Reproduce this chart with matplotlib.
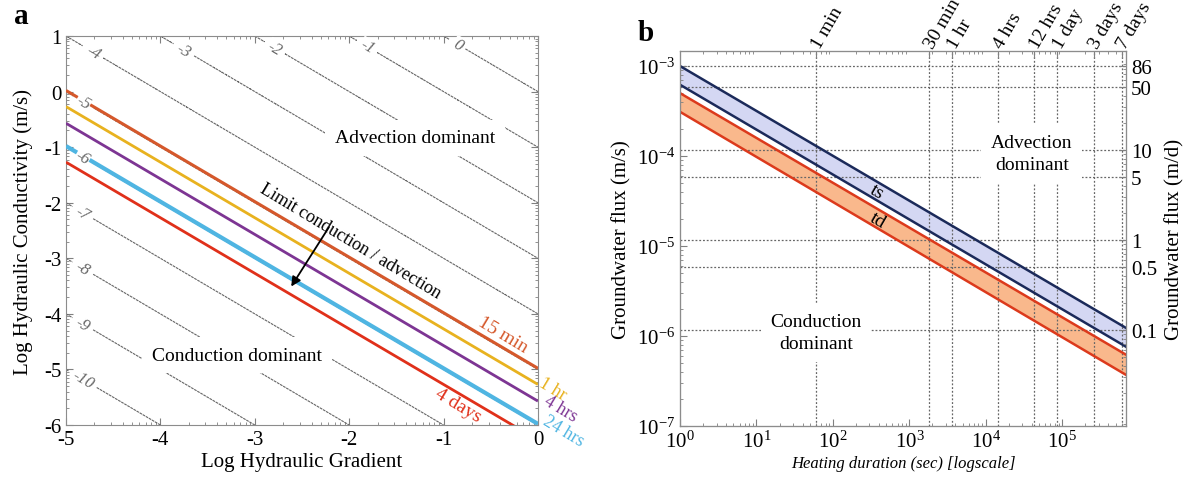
import numpy as np
import matplotlib
matplotlib.use('Agg')
import matplotlib.pyplot as plt
from matplotlib.ticker import FixedLocator, NullFormatter

plt.rcParams['font.family'] = ['Liberation Serif', 'DejaVu Serif']
plt.rcParams['mathtext.fontset'] = 'stix'
plt.rcParams['axes.unicode_minus'] = False
plt.rcParams['xtick.direction'] = 'in'
plt.rcParams['ytick.direction'] = 'in'

# ---- panel a data ----
grad_ends = [-5, 0]
limit_names = ['15 min', '1 hr', '4 hrs', '24 hrs', '4 days']
limit_logk = [[0.02, -4.98], [-0.27, -5.27], [-0.57, -5.57], [-0.98, -5.98], [-1.27, -6.27]]
limit_colors = ['#d5582b', '#e8b21f', '#7d3593', '#4fb5e2', '#e0301a']
limit_widths = [2.2, 2.0, 2.0, 3.0, 2.0]
flux_levels = list(range(-10, 1))
label_pos = [(-4.83, -5.2), (-4.83, -4.2), (-4.83, -3.2), (-4.83, -2.2), (-4.83, -1.2),
             (-4.82, -0.2), (-4.72, 0.7), (-3.76, 0.73), (-2.8, 0.76), (-1.82, 0.79),
             (-0.86, 0.83)]

# ---- panel b data ----
dur_ends = [1, 6.8e5]
ts_upper = [1.0e-3, 1.23e-6]
ts_lower = [6.2e-4, 7.6e-7]
td_upper = [5.0e-4, 6.2e-7]
td_lower = [3.1e-4, 3.7e-7]
time_marks = [60, 1800, 3600, 14400, 43200, 86400, 259200, 604800]
time_labels = ['1 min', '30 min', '1 hr', '4 hrs', '12 hrs', '1 day', '3 days', '7 days']
flux_md = [0.1, 0.5, 1, 5, 10, 50, 86]
flux_md_labels = ['0.1', '0.5', '1', '5', '10', '50', '86']

fig = plt.figure(figsize=(11.92, 4.81), dpi=100)
ax = fig.add_axes([0.0554, 0.1143, 0.3959, 0.8087])
axb = fig.add_axes([0.5705, 0.1123, 0.3741, 0.7796])

# ---------------- panel a ----------------
g = np.linspace(-5, 0, 201)
k = np.linspace(-6, 1, 281)
G, K = np.meshgrid(g, k)
cs = ax.contour(G, K, G + K, levels=flux_levels, colors='0.4', linewidths=0.8,
                linestyles=[(0, (2.5, 0.7))])
labels = ax.clabel(cs, flux_levels, inline=True, inline_spacing=5, fmt='%d',
                   fontsize=12, manual=label_pos)
for t in labels:
    t.set_fontstyle('italic')
    t.set_color('0.4')
    t.set_bbox(dict(facecolor='white', edgecolor='none', pad=0.3))
    t.set_zorder(6)

for name, lk, c, w in zip(limit_names, limit_logk, limit_colors, limit_widths):
    ax.plot(grad_ends, lk, color=c, lw=w, zorder=4, solid_capstyle='butt')

ax.text(-1.3, -0.83, 'Advection dominant', fontsize=14, ha='center', va='center',
        zorder=3, bbox=dict(facecolor='white', edgecolor='none', pad=7))
ax.text(-3.19, -4.74, 'Conduction dominant', fontsize=14, ha='center', va='center',
        zorder=3, bbox=dict(facecolor='white', edgecolor='none', pad=7))
ax.text(-1.99, -2.68, 'Limit conduction / advection', fontsize=13, ha='center',
        va='center', rotation=-31, zorder=3,
        bbox=dict(facecolor='white', edgecolor='none', pad=1))
ax.annotate('', xy=(-2.63, -3.55), xytext=(-2.2, -2.4),
            arrowprops=dict(arrowstyle='-|>', color='black', lw=1.3,
                            mutation_scale=14), zorder=5)

ax.text(-0.37, -4.36, '15 min', color=limit_colors[0], fontsize=14, rotation=-31,
        ha='center', va='center', zorder=5)
ax.text(-0.85, -5.64, '4 days', color=limit_colors[4], fontsize=14, rotation=-31,
        ha='center', va='center', zorder=5)
ax.text(0.16, -5.35, '1 hr', color=limit_colors[1], fontsize=13, rotation=-31,
        ha='center', va='center', clip_on=False)
ax.text(0.24, -5.7, '4 hrs', color=limit_colors[2], fontsize=13, rotation=-31,
        ha='center', va='center', clip_on=False)
ax.text(0.27, -6.1, '24 hrs', color=limit_colors[3], fontsize=13, rotation=-31,
        ha='center', va='center', clip_on=False)

ax.set_xlim(-5, 0)
ax.set_ylim(-6, 1)
ax.set_xticks(range(-5, 1))
ax.set_yticks(range(-6, 2))
ax.xaxis.set_minor_locator(FixedLocator([i + np.log10(m) for i in range(-5, 0) for m in range(2, 10)]))
ax.yaxis.set_minor_locator(FixedLocator([i + np.log10(m) for i in range(-6, 1) for m in range(2, 10)]))
ax.tick_params(which='both', top=True, right=True, color='0.5', labelsize=15)
ax.tick_params(which='major', length=5)
ax.tick_params(which='minor', length=2.5)
for s in ax.spines.values():
    s.set_color('0.55')
ax.set_xlabel('Log Hydraulic Gradient', fontsize=15, labelpad=2)
ax.set_ylabel('Log Hydraulic Conductivity (m/s)', fontsize=15, labelpad=8)
fig.text(0.012, 0.95, 'a', fontsize=21, fontweight='bold')

# ---------------- panel b ----------------
axb.set_xscale('log')
axb.set_yscale('log')
axb.set_xlim(1, 6.8e5)
axb.set_ylim(1e-7, 1.47e-3)

axb.fill_between(dur_ends, ts_lower, ts_upper, color='#d4d7f3', lw=0, zorder=1)
axb.fill_between(dur_ends, td_lower, td_upper, color='#f9b88c', lw=0, zorder=1)

for tm in time_marks:
    axb.axvline(tm, color='0.4', lw=0.9, ls=(0, (1.5, 1.5)), zorder=1.5)
for v in flux_md:
    axb.axhline(v / 86400, color='0.4', lw=0.9, ls=(0, (1.5, 1.5)), zorder=1.5)

axb.plot(dur_ends, ts_upper, color='#1b2a5a', lw=1.8, zorder=4)
axb.plot(dur_ends, ts_lower, color='#1b2a5a', lw=1.8, zorder=4)
axb.plot(dur_ends, td_upper, color='#dc3a1c', lw=1.8, zorder=4)
axb.plot(dur_ends, td_lower, color='#dc3a1c', lw=1.8, zorder=4)

axb.text(376, 4.0e-5, 'ts', fontsize=14, rotation=-30, ha='center', va='center', zorder=5)
axb.text(390, 1.95e-5, 'td', fontsize=14, rotation=-30, ha='center', va='center', zorder=5)

axb.text(4.0e4, 1.07e-4, 'Advection\ndominant', fontsize=14, ha='center', va='center',
         linespacing=1.4, zorder=3, bbox=dict(facecolor='white', edgecolor='none', pad=7))
axb.text(60, 1.1e-6, 'Conduction\ndominant', fontsize=14, ha='center', va='center',
         linespacing=1.4, zorder=3, bbox=dict(facecolor='white', edgecolor='none', pad=7))

axb.tick_params(which='both', top=False, right=False, color='0.5', labelsize=15)
axb.tick_params(which='major', length=5)
axb.tick_params(which='minor', length=2.5)
for s in axb.spines.values():
    s.set_color('0.55')
axb.set_ylabel('Groundwater flux (m/s)', fontsize=15, labelpad=4)
axb.set_xlabel('Heating duration (sec) [logscale]', fontsize=12, style='italic', labelpad=2)

axr = axb.twinx()
axr.set_yscale('log')
axr.set_ylim(1e-7 * 86400, 1.47e-3 * 86400)
axr.set_yticks(flux_md)
axr.set_yticklabels(flux_md_labels)
axr.yaxis.set_minor_formatter(NullFormatter())
axr.tick_params(which='both', color='0.5', labelsize=15)
axr.tick_params(which='major', length=5)
axr.tick_params(which='minor', length=2.5)
axr.set_ylabel('Groundwater flux (m/d)', fontsize=15, labelpad=6)

axt = axb.twiny()
axt.set_xscale('log')
axt.set_xlim(1, 6.8e5)
axt.set_xticks(time_marks)
axt.set_xticklabels(time_labels, rotation=60, ha='left', va='center', rotation_mode='anchor')
axt.xaxis.set_minor_formatter(NullFormatter())
axt.tick_params(which='both', color='0.5', labelsize=14, pad=3)
axt.tick_params(which='major', length=5)
axt.tick_params(which='minor', length=2.5)
for a in (axr, axt):
    for s in a.spines.values():
        s.set_color('0.55')

fig.text(0.535, 0.915, 'b', fontsize=21, fontweight='bold')

fig.savefig('out.png', dpi=100)
